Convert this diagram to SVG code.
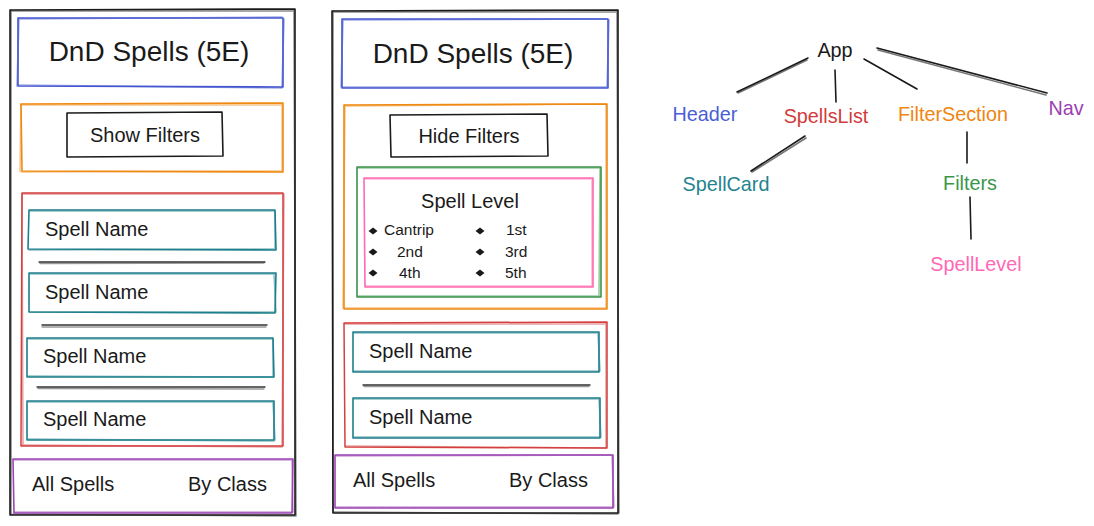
<svg xmlns="http://www.w3.org/2000/svg" width="1094" height="526" viewBox="0 0 1094 526">
<style>
text{font-family:"Liberation Sans",Arial,Helvetica,sans-serif;fill:#1a1a1a}
.b{fill:none;stroke-linejoin:round;stroke-linecap:round}
.s2{stroke-width:1.1;opacity:0.5}
.frame{stroke:#1a1a1a;stroke-width:1.6}
.blue{stroke:#4456cf;stroke-width:1.6}
.orange{stroke:#ef8a14;stroke-width:1.6}
.red{stroke:#d43f3f;stroke-width:1.5}
.teal{stroke:#1e7f8c;stroke-width:1.6}
.green{stroke:#3a944a;stroke-width:1.6}
.pink{stroke:#ff6ab2;stroke-width:1.6}
.purple{stroke:#9b44b4;stroke-width:1.6}
.btn{stroke:#1a1a1a;stroke-width:1.6}
.sep{stroke:#333;stroke-width:1.4}
.edge{stroke:#1a1a1a;stroke-width:1.6;fill:none;stroke-linecap:round}
.title{font-size:28px}
.t20{font-size:20px}
.t15{font-size:15.5px}
.lbl{font-size:19.8px}
.bul{fill:#1a1a1a}
</style>

<g id="phone-left">
  <path class="b frame" d="M10 10 L295 9 L295 515 L10 515 Z"/>
  <path class="b frame s2" d="M11 11 L294 11 M294 10 L296 516 M295 516 L11 514 M11 514 L11 10"/>
  <g id="left-header">
    <path class="b blue" d="M18 18 L283 18 L283 87 L18 86 Z"/>
    <path class="b blue s2" d="M19 19 L282 17 M284 19 L282 87 M282 88 L19 85 M17 86 L19 18"/>
    <text class="title" x="149" y="61" text-anchor="middle">DnD Spells (5E)</text>
  </g>
  <g id="left-filtersection">
    <path class="b orange" d="M21 104 L283 103 L283 172 L22 171 Z"/>
    <path class="b orange s2" d="M22 105 L282 105 M282 104 L282 172 M282 171 L21 172 M20 171 L21 104"/>
    <path class="b btn" d="M67 113 L222 112 L223 156 L67 157 Z"/>
    <text class="t20" x="145" y="142" text-anchor="middle">Show Filters</text>
  </g>
  <g id="left-spellslist">
    <path class="b red" d="M22 193 L283 193 L283 446 L21 446 Z"/>
    <path class="b red s2" d="M23 194 L282 194 M284 194 L282 445 M282 447 L22 445 M23 445 L22 194"/>
    <g id="left-card-1">
      <path class="b teal" d="M29 210 L275 210 L276 250 L28 249 Z"/>
      <path class="b teal s2" d="M30 211 L274 211 M275 212 L275 249 M275 249 L29 250"/>
      <text class="t20" x="45" y="236">Spell Name</text>
    </g>
    <path class="b sep" d="M39 262 L265 262"/>
    <path class="b sep s2" d="M40 263.5 L264 263"/>
    <g id="left-card-2">
      <path class="b teal" d="M29 273 L276 273 L275 313 L29 312 Z"/>
      <path class="b teal s2" d="M30 274 L275 274 M274 274 L276 312 M275 312 L30 312"/>
      <text class="t20" x="45" y="299">Spell Name</text>
    </g>
    <path class="b sep" d="M42 325 L267 325"/>
    <path class="b sep s2" d="M42 327 L266 327"/>
    <g id="left-card-3">
      <path class="b teal" d="M27 338 L273 338 L274 377 L27 377 Z"/>
      <path class="b teal s2" d="M28 339 L272 339 M273 339 L273 376 M273 377 L28 376"/>
      <text class="t20" x="43" y="363">Spell Name</text>
    </g>
    <path class="b sep" d="M37 387 L265 387"/>
    <path class="b sep s2" d="M38 388.5 L264 389"/>
    <g id="left-card-4">
      <path class="b teal" d="M27 401 L274 401 L274 440 L27 440 Z"/>
      <path class="b teal s2" d="M28 402 L273 402 M273 402 L275 440 M274 441 L28 439"/>
      <text class="t20" x="43" y="426">Spell Name</text>
    </g>
  </g>
  <g id="left-nav">
    <path class="b purple" d="M13 459 L293 459 L292 513 L14 513 Z"/>
    <path class="b purple s2" d="M14 460 L292 460 M292 460 L293 512 M292 512 L14 512"/>
    <text class="t20" x="32" y="491">All Spells</text>
    <text class="t20" x="188" y="491">By Class</text>
  </g>
</g>

<g id="phone-right">
  <path class="b frame" d="M332 11 L618 10 L618 513 L333 513 Z"/>
  <path class="b frame s2" d="M333 12 L617 12 M617 11 L619 513 M618 514 L334 512 M333 512 L333 11"/>
  <g id="right-header">
    <path class="b blue" d="M342 19 L608 19 L608 88 L342 88 Z"/>
    <path class="b blue s2" d="M343 20 L607 19 M609 20 L607 87 M607 87 L343 87 M341 87 L343 20"/>
    <text class="title" x="473" y="63" text-anchor="middle">DnD Spells (5E)</text>
  </g>
  <g id="right-filtersection">
    <path class="b orange" d="M344 105 L607 104 L607 309 L344 309 Z"/>
    <path class="b orange s2" d="M345 106 L606 104 M606 105 L606 308 M606 308 L345 308 M343 308 L345 105"/>
    <path class="b btn" d="M390 115 L547 114 L548 156 L391 157 Z"/>
    <text class="t20" x="469" y="143" text-anchor="middle">Hide Filters</text>
    <g id="right-filters">
      <path class="b green" d="M357 167 L601 167 L601 297 L357 297 Z"/>
      <path class="b green s2" d="M358 168 L600 168 M600 168 L599 296 M600 296 L358 296"/>
      <g id="right-spelllevel">
        <path class="b pink" d="M364 178 L593 178 L593 287 L365 287 Z"/>
        <path class="b pink s2" d="M365 179 L592 179 M592 179 L592 286 M592 286 L366 286"/>
        <text class="t20" x="470" y="208" text-anchor="middle">Spell Level</text>
        <path class="bul" d="M368.5 231 L373 227.5 L377.5 231 L373 234.5 Z"/>
        <path class="bul" d="M475.5 231 L480 227.5 L484.5 231 L480 234.5 Z"/>
        <path class="bul" d="M368.5 252 L373 248.5 L377.5 252 L373 255.5 Z"/>
        <path class="bul" d="M475.5 252 L480 248.5 L484.5 252 L480 255.5 Z"/>
        <path class="bul" d="M368.5 273 L373 269.5 L377.5 273 L373 276.5 Z"/>
        <path class="bul" d="M475.5 273 L480 269.5 L484.5 273 L480 276.5 Z"/>
        <text class="t15" x="384" y="235">Cantrip</text>
        <text class="t15" x="506" y="235">1st</text>
        <text class="t15" x="397" y="257">2nd</text>
        <text class="t15" x="505" y="257">3rd</text>
        <text class="t15" x="399" y="278">4th</text>
        <text class="t15" x="505" y="278">5th</text>
      </g>
    </g>
  </g>
  <g id="right-spellslist">
    <path class="b red" d="M344 323 L607 322 L607 448 L345 447 Z"/>
    <path class="b red s2" d="M345 324 L606 324 M606 323 L606 447 M606 448 L346 446"/>
    <g id="right-card-1">
      <path class="b teal" d="M353 332 L599 332 L599 372 L353 372 Z"/>
      <path class="b teal s2" d="M354 333 L598 333 M598 333 L600 371 M599 371 L354 371"/>
      <text class="t20" x="369" y="358">Spell Name</text>
    </g>
    <path class="b sep" d="M363 385 L590 385"/>
    <path class="b sep s2" d="M364 386.5 L589 386.5"/>
    <g id="right-card-2">
      <path class="b teal" d="M353 398 L600 398 L600 438 L353 438 Z"/>
      <path class="b teal s2" d="M354 399 L599 399 M599 399 L601 437 M600 437 L354 437"/>
      <text class="t20" x="369" y="424">Spell Name</text>
    </g>
  </g>
  <g id="right-nav">
    <path class="b purple" d="M335 455 L613 455 L613 508 L335 508 Z"/>
    <path class="b purple s2" d="M336 456 L612 455 M612 456 L614 507 M613 507 L336 507"/>
    <text class="t20" x="353" y="487">All Spells</text>
    <text class="t20" x="509" y="487">By Class</text>
  </g>
</g>

<g id="connectors">
  <path class="edge" d="M808 58 L737 92"/>
  <path class="edge" d="M807 60 L738 93" stroke-width="0.8" opacity="0.6"/>
  <path class="edge" d="M835 70 L836 102"/>
  <path class="edge" d="M864 59 L917 89"/>
  <path class="edge" d="M877 48 L1047 93"/>
  <path class="edge" d="M878 50 L1046 95" stroke-width="0.8" opacity="0.6"/>
  <path class="edge" d="M805 136 L751 171"/>
  <path class="edge" d="M806 138 L752 172" stroke-width="0.8" opacity="0.6"/>
  <path class="edge" d="M967 132 L967 163"/>
  <path class="edge" d="M970 197 L971 239"/>
</g>

<g id="tree-app"><text class="lbl" x="835" y="57" text-anchor="middle">App</text></g>
<g id="tree-header"><text class="lbl" x="705" y="121" text-anchor="middle" style="fill:#4a5ed4">Header</text></g>
<g id="tree-spellslist"><text class="lbl" x="826" y="123" text-anchor="middle" style="fill:#d23c3c">SpellsList</text></g>
<g id="tree-filtersection"><text class="lbl" x="953" y="121" text-anchor="middle" style="fill:#f0850f">FilterSection</text></g>
<g id="tree-nav"><text class="lbl" x="1066" y="115" text-anchor="middle" style="fill:#9c40b0">Nav</text></g>
<g id="tree-spellcard"><text class="lbl" x="726" y="191" text-anchor="middle" style="fill:#23838f">SpellCard</text></g>
<g id="tree-filters"><text class="lbl" x="970" y="190" text-anchor="middle" style="fill:#3a974a">Filters</text></g>
<g id="tree-spelllevel"><text class="lbl" x="976" y="271" text-anchor="middle" style="fill:#ff68b4">SpellLevel</text></g>
</svg>
